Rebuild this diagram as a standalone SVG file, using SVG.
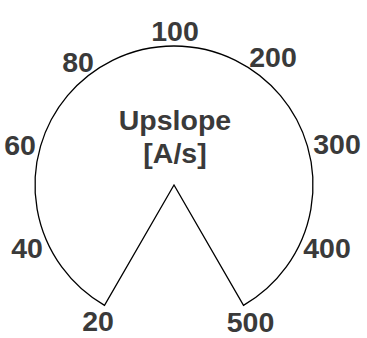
<svg xmlns="http://www.w3.org/2000/svg" width="367" height="338" viewBox="0 0 367 338">
<style>
.lbl{font-family:"Liberation Sans",Arial,sans-serif;font-weight:bold;font-size:28.5px;fill:#3a3a3a;text-anchor:middle}
.dial{fill:#fff;stroke:#000;stroke-width:1.3;stroke-linejoin:miter}
</style>
<rect width="367" height="338" fill="#fff"/>
<g id="connectors">
<path class="dial" d="M174 185 L104.5 305.4 A139 139 0 1 1 243.5 305.4 Z"/>
</g>
<g id="title"><text class="lbl" x="175" y="130">Upslope</text><text class="lbl" x="175" y="163">[A/s]</text></g>
<g id="l100"><text class="lbl" x="175" y="41">100</text></g>
<g id="l80"><text class="lbl" x="78" y="72">80</text></g>
<g id="l200"><text class="lbl" x="273" y="67">200</text></g>
<g id="l60"><text class="lbl" x="20" y="155">60</text></g>
<g id="l300"><text class="lbl" x="337" y="154">300</text></g>
<g id="l40"><text class="lbl" x="27" y="258">40</text></g>
<g id="l400"><text class="lbl" x="327" y="258">400</text></g>
<g id="l20"><text class="lbl" x="98" y="331">20</text></g>
<g id="l500"><text class="lbl" x="250.5" y="331.5">500</text></g>
</svg>
